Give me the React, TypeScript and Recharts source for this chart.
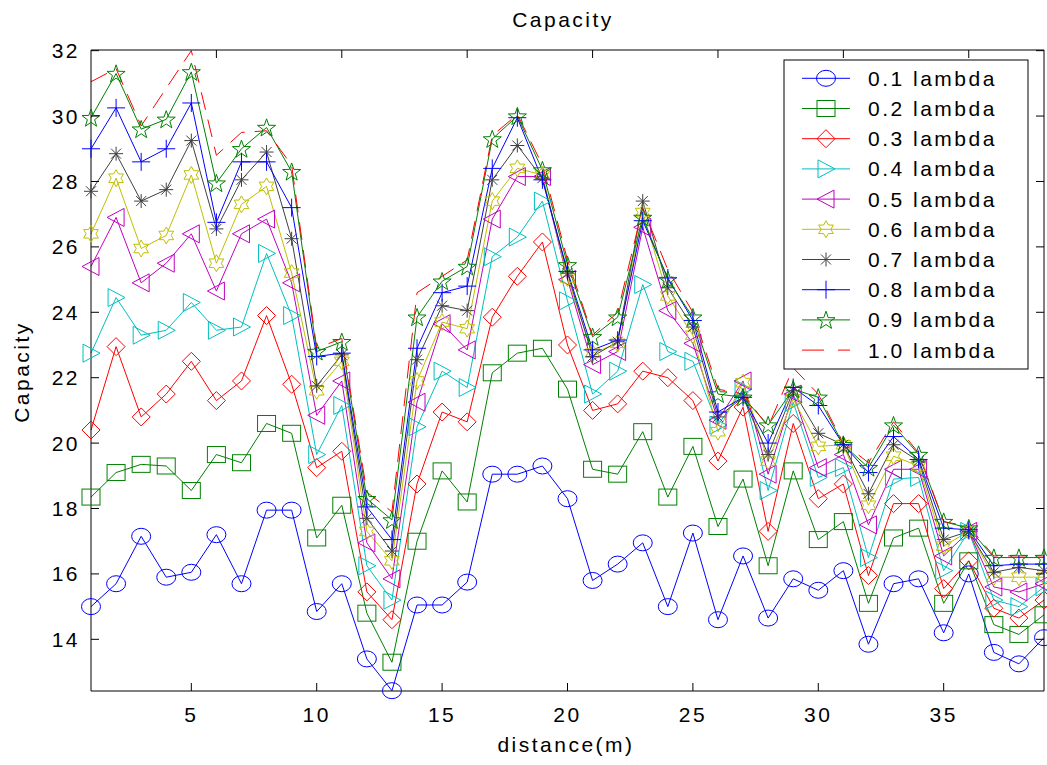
import React from 'react';
import { LineChart, Line, XAxis, YAxis } from 'recharts';

// distance (m) along the x axis
const distance = [
  1, 2, 3, 4, 5, 6, 7, 8, 9, 10, 11, 12, 13, 14, 15, 16, 17, 18, 19, 20,
  21, 22, 23, 24, 25, 26, 27, 28, 29, 30, 31, 32, 33, 34, 35, 36, 37, 38, 39,
];

const seriesNames = [
  '0.1 lambda', '0.2 lambda', '0.3 lambda', '0.4 lambda', '0.5 lambda',
  '0.6 lambda', '0.7 lambda', '0.8 lambda', '0.9 lambda', '1.0 lambda',
];

const cap01 = [
  15.0, 15.7, 17.15, 15.9, 16.05, 17.2, 15.7, 17.95, 17.95, 14.85, 15.7, 13.4, 12.43,
  15.05, 15.05, 15.75, 19.05, 19.05, 19.3, 18.3, 15.8, 16.3, 16.95, 15.0, 17.25, 14.6,
  16.55, 14.65, 15.85, 15.5, 16.1, 13.85, 15.7, 15.85, 14.2, 16.0, 13.6, 13.25, 14.05,
];
const cap02 = [
  18.35, 19.1, 19.35, 19.3, 18.55, 19.65, 19.4, 20.6, 20.3, 17.1, 18.1, 14.8, 13.3,
  17.0, 19.15, 18.2, 22.15, 22.75, 22.9, 21.65, 19.2, 19.05, 20.35, 18.35, 19.9, 17.45,
  18.9, 16.25, 19.15, 17.05, 17.6, 15.1, 17.1, 17.4, 15.1, 16.4, 14.45, 14.15, 14.75,
];
const cap03 = [
  20.4, 22.95, 20.8, 21.5, 22.5, 21.3, 21.9, 23.9, 21.8, 19.25, 19.75, 15.45, 14.6,
  18.75, 20.95, 20.65, 23.85, 25.1, 26.15, 23.0, 21.0, 21.2, 22.2, 22.0, 21.3, 19.45,
  21.1, 17.3, 20.6, 18.3, 18.75, 15.95, 18.15, 18.15, 15.55, 16.4, 14.95, 14.65, 15.2,
];
const cap04 = [
  22.75, 24.45, 23.3, 23.45, 24.3, 23.45, 23.55, 25.8, 23.9, 19.65, 21.15, 16.25, 15.2,
  20.5, 22.2, 21.7, 25.7, 26.3, 27.4, 24.35, 21.5, 22.2, 24.85, 22.8, 22.5, 20.55,
  21.65, 18.55, 21.25, 18.95, 19.25, 16.5, 18.9, 18.95, 16.1, 17.3, 15.2, 15.0, 15.6,
];
const cap05 = [
  25.4, 26.9, 24.9, 25.5, 26.4, 24.65, 26.4, 26.85, 24.9, 20.85, 21.9, 16.95, 15.85,
  21.25, 23.65, 22.85, 26.85, 28.15, 28.15, 25.0, 22.4, 22.8, 26.6, 24.05, 23.05, 20.7,
  21.9, 19.05, 21.5, 19.25, 19.65, 17.5, 19.2, 19.2, 16.55, 17.3, 15.6, 15.45, 15.7,
];
const cap06 = [
  26.4, 28.1, 25.95, 26.35, 28.2, 25.5, 27.3, 27.85, 25.2, 21.6, 22.5, 17.3, 16.4,
  21.9, 23.7, 23.5, 27.4, 28.4, 28.2, 25.05, 22.75, 23.05, 27.05, 24.5, 23.3, 20.35,
  21.85, 19.45, 21.35, 19.9, 19.95, 18.1, 19.6, 19.3, 16.85, 17.3, 15.9, 15.9, 15.9,
];
const cap07 = [
  27.7, 28.85, 27.4, 27.75, 29.25, 26.55, 28.05, 28.9, 26.25, 21.75, 22.7, 17.7, 16.7,
  22.55, 24.2, 24.05, 28.05, 29.1, 28.1, 25.2, 22.65, 23.1, 27.4, 24.75, 23.55, 20.8,
  21.4, 19.65, 21.6, 20.3, 19.95, 18.45, 19.95, 19.45, 17.05, 17.3, 16.05, 16.2, 16.1,
];
const cap08 = [
  29.0, 30.25, 28.6, 29.0, 30.4, 26.75, 28.6, 28.6, 27.2, 22.65, 22.75, 18.05, 17.05,
  22.9, 24.6, 24.8, 28.4, 29.95, 28.05, 25.25, 22.85, 23.15, 26.8, 25.05, 23.75, 20.95,
  21.4, 20.0, 21.7, 21.15, 19.95, 19.1, 20.2, 19.5, 17.4, 17.35, 16.25, 16.3, 16.3,
];
const cap09 = [
  29.95, 31.3, 29.6, 29.9, 31.35, 27.95, 29.0, 29.65, 28.3, 22.8, 23.1, 18.3, 17.65,
  23.85, 24.95, 25.4, 29.3, 30.0, 28.35, 25.45, 23.25, 23.85, 26.9, 25.0, 23.85, 21.5,
  21.4, 20.55, 21.65, 21.4, 19.95, 19.25, 20.55, 19.65, 17.6, 17.4, 16.5, 16.5, 16.5,
];
const cap10 = [
  31.05, 31.45, 29.7, 30.85, 32.0, 28.8, 29.5, 29.55, 28.5, 22.9, 23.2, 18.5, 17.9,
  24.6, 25.1, 25.6, 29.4, 30.05, 28.5, 25.6, 23.3, 24.0, 27.2, 25.3, 24.0, 21.65,
  21.5, 20.5, 22.3, 21.5, 20.0, 19.4, 20.65, 19.7, 17.6, 17.45, 16.55, 16.55, 16.55,
];

const xTicks = [5, 10, 15, 20, 25, 30, 35];
const yTicks = [14, 16, 18, 20, 22, 24, 26, 28, 30, 32];

const allSeries = [cap01, cap02, cap03, cap04, cap05, cap06, cap07, cap08, cap09, cap10];
const colors = [
  '#0000ff', '#008000', '#ff0000', '#00bfbf', '#bf00bf',
  '#bfbf00', '#404040', '#0000ff', '#008000', '#ff0000',
];
const markers = [
  'circle', 'square', 'diamond', 'triRight', 'triLeft',
  'hexagram', 'asterisk', 'plus', 'pentagram', 'none',
];

const data = distance.map((d, i) => {
  const row: any = { d };
  allSeries.forEach((s, k) => {
    row['s' + k] = s[i];
  });
  return row;
});

const font = {
  fontFamily: '"Liberation Sans", Arial, sans-serif',
  fontSize: 21,
  letterSpacing: 2.5,
  fill: '#000',
};

const starPoints = (n: number, outer: number, inner: number, cx: number, cy: number) => {
  const pts: string[] = [];
  for (let i = 0; i < n * 2; i++) {
    const r = i % 2 === 0 ? outer : inner;
    const a = -Math.PI / 2 + (i * Math.PI) / n;
    pts.push(`${cx + r * Math.cos(a)},${cy + r * Math.sin(a)}`);
  }
  return pts.join(' ');
};

const Marker = ({ shape, cx, cy, color }: any) => {
  const p = { stroke: color, strokeWidth: 1, fill: 'none' };
  switch (shape) {
    case 'circle':
      return <ellipse cx={cx} cy={cy} rx={9.5} ry={8} {...p} />;
    case 'square':
      return <rect x={cx - 9} y={cy - 8} width={18} height={16} {...p} />;
    case 'diamond':
      return <polygon points={`${cx},${cy - 9} ${cx + 9},${cy} ${cx},${cy + 9} ${cx - 9},${cy}`} {...p} />;
    case 'triRight':
      return <polygon points={`${cx - 8},${cy - 9} ${cx - 8},${cy + 9} ${cx + 9},${cy}`} {...p} />;
    case 'triLeft':
      return <polygon points={`${cx + 8},${cy - 9} ${cx + 8},${cy + 9} ${cx - 9},${cy}`} {...p} />;
    case 'hexagram':
      return <polygon points={starPoints(6, 8.5, 4.9, cx, cy)} {...p} />;
    case 'pentagram':
      return <polygon points={starPoints(5, 9.5, 3.8, cx, cy + 0.8)} {...p} />;
    case 'asterisk':
      return (
        <g {...p}>
          <line x1={cx - 7} y1={cy} x2={cx + 7} y2={cy} />
          <line x1={cx} y1={cy - 7} x2={cx} y2={cy + 7} />
          <line x1={cx - 5} y1={cy - 5} x2={cx + 5} y2={cy + 5} />
          <line x1={cx - 5} y1={cy + 5} x2={cx + 5} y2={cy - 5} />
        </g>
      );
    case 'plus':
      return (
        <g {...p}>
          <line x1={cx - 9} y1={cy} x2={cx + 9} y2={cy} />
          <line x1={cx} y1={cy - 9} x2={cx} y2={cy + 9} />
        </g>
      );
    default:
      return null;
  }
};

const BottomTick = ({ x, y, payload }: any) => (
  <g>
    <line x1={x} x2={x} y1={y} y2={y - 8} stroke="#000" />
    <text x={x} y={y + 31} textAnchor="middle" style={font}>{payload.value}</text>
  </g>
);
const TopTick = ({ x, y }: any) => <line x1={x} x2={x} y1={y} y2={y + 8} stroke="#000" />;
const LeftTick = ({ x, y, payload }: any) => (
  <g>
    <line x1={x} x2={x + 8} y1={y} y2={y} stroke="#000" />
    <text x={x - 11} y={y + 7.5} textAnchor="end" style={font}>{payload.value}</text>
  </g>
);
const RightTick = ({ x, y }: any) => <line x1={x} x2={x - 8} y1={y} y2={y} stroke="#000" />;

const legendTop = 78.3;
const legendGap = 30.2;

export default function App() {
  return (
    <div style={{ position: 'absolute', left: 0, top: 0, width: 1047, height: 765, background: '#fff' }}>
      <LineChart width={1047} height={765} data={data} margin={{ top: 0, right: 0, bottom: 0, left: 0 }}>
        <XAxis
          dataKey="d"
          type="number"
          domain={[1, 39]}
          ticks={xTicks}
          interval={0}
          height={74}
          axisLine={{ stroke: '#000' }}
          tickLine={false}
          tickSize={0}
          tickMargin={0}
          tick={<BottomTick />}
        />
        <XAxis
          xAxisId="top"
          orientation="top"
          type="number"
          domain={[1, 39]}
          allowDataOverflow
          ticks={xTicks}
          interval={0}
          height={50}
          axisLine={{ stroke: '#000' }}
          tickLine={false}
          tickSize={0}
          tickMargin={0}
          tick={<TopTick />}
        />
        <YAxis
          type="number"
          domain={[12.42, 32.02]}
          ticks={yTicks}
          interval={0}
          width={91}
          axisLine={{ stroke: '#000' }}
          tickLine={false}
          tickSize={0}
          tickMargin={0}
          tick={<LeftTick />}
        />
        <YAxis
          yAxisId="right"
          orientation="right"
          type="number"
          domain={[12.42, 32.02]}
          allowDataOverflow
          ticks={yTicks}
          interval={0}
          width={3}
          axisLine={{ stroke: '#000' }}
          tickLine={false}
          tickSize={0}
          tickMargin={0}
          tick={<RightTick />}
        />
        {seriesNames.map((name, k) => (
          <Line
            key={name}
            name={name}
            dataKey={'s' + k}
            type="linear"
            stroke={colors[k]}
            strokeWidth={1}
            strokeDasharray={markers[k] === 'none' ? '18 10' : undefined}
            isAnimationActive={false}
            activeDot={false}
            dot={
              markers[k] === 'none'
                ? false
                : (p: any) => (
                    <Marker key={`${k}-${p.index}`} shape={markers[k]} cx={p.cx} cy={p.cy} color={colors[k]} />
                  )
            }
          />
        ))}
      </LineChart>
      <svg
        width={1047}
        height={765}
        style={{ position: 'absolute', left: 0, top: 0, pointerEvents: 'none' }}
      >
        <text x={563} y={27} textAnchor="middle" style={font}>Capacity</text>
        <text x={566} y={752} textAnchor="middle" style={font}>distance(m)</text>
        <text x={29} y={372} textAnchor="middle" transform="rotate(-90 29 372)" style={font}>
          Capacity
        </text>
        <rect x={784} y={60} width={244} height={309} fill="#fff" stroke="#000" />
        {seriesNames.map((name, k) => {
          const y = legendTop + k * legendGap;
          return (
            <g key={name}>
              <line
                x1={802}
                x2={850}
                y1={y}
                y2={y}
                stroke={colors[k]}
                strokeDasharray={markers[k] === 'none' ? '22 14' : undefined}
              />
              <Marker shape={markers[k]} cx={826} cy={y} color={colors[k]} />
              <text x={868} y={y + 7.5} style={font}>{name}</text>
            </g>
          );
        })}
      </svg>
    </div>
  );
}
